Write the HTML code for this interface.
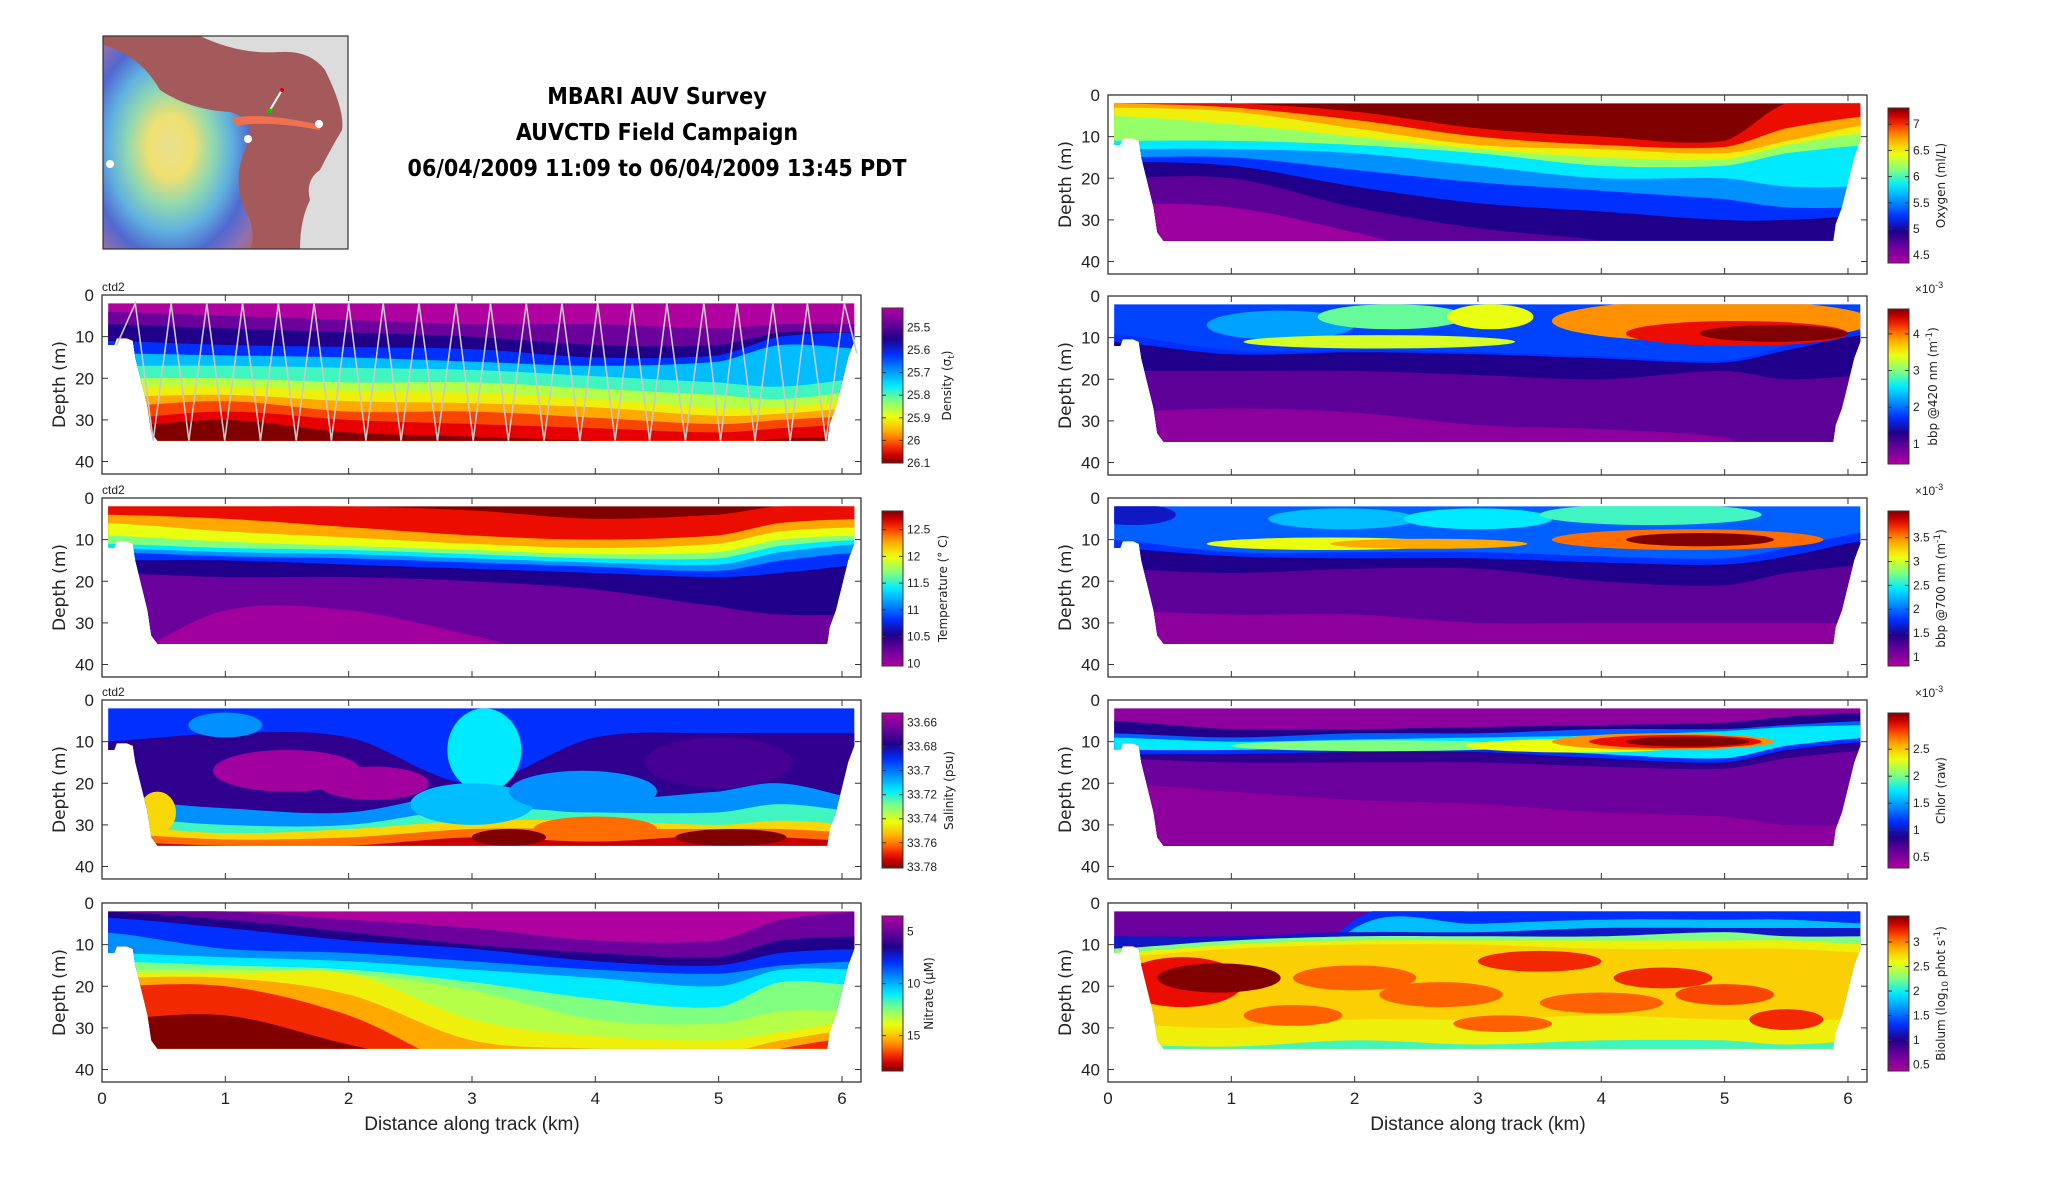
<!DOCTYPE html>
<html><head><meta charset="utf-8"><title>MBARI AUV Survey</title>
<style>
html,body{margin:0;padding:0;background:#fff;}
svg{display:block;}
.tk{font-family:"Liberation Sans Narrow","Liberation Sans",sans-serif;font-size:17px;fill:#222;}
.cb{font-family:"Liberation Sans Narrow","Liberation Sans",sans-serif;font-size:12px;fill:#222;}
.lab{font-family:"DejaVu Sans","Liberation Sans",sans-serif;font-size:17px;fill:#222;}
.xl{font-family:"Liberation Sans Narrow","Liberation Sans",sans-serif;font-size:19px;fill:#222;}
.cbt{font-family:"DejaVu Sans","Liberation Sans",sans-serif;font-size:12px;fill:#222;}
.ttl{font-family:"DejaVu Sans Condensed","DejaVu Sans","Liberation Sans",sans-serif;font-size:23px;font-weight:bold;fill:#000;}
</style></head>
<body>
<svg id="fig" width="2052" height="1188" viewBox="0 0 2052 1188" xmlns="http://www.w3.org/2000/svg">
<defs>
<clipPath id="mapclip"><rect x="103" y="36" width="245" height="213"/></clipPath>
<radialGradient id="rainbow" cx="0.45" cy="0.5" r="0.75">
<stop offset="0" stop-color="#e8e090"/><stop offset="0.2" stop-color="#f0e070"/><stop offset="0.38" stop-color="#90d8b0"/><stop offset="0.55" stop-color="#60b0e0"/><stop offset="0.72" stop-color="#5068d0"/><stop offset="0.88" stop-color="#9070b0"/><stop offset="1" stop-color="#b06868"/>
</radialGradient>
</defs>
<g clip-path="url(#mapclip)">
<rect x="103" y="36" width="245" height="213" fill="#dcdcdc"/>
<path d="M103,36 L200,36 Q240,55 280,52 Q310,50 325,70 Q345,110 342,130 Q330,150 320,170 Q305,180 310,200 Q300,220 300,249 L103,249 Z" fill="#a45a5a"/>
<path d="M103,45 Q140,55 160,90 Q190,110 230,112 Q260,120 245,150 Q230,185 250,220 Q255,240 250,249 L103,249 Z" fill="url(#rainbow)"/>
<path d="M232,118 Q265,112 320,125 L320,130 Q265,120 236,126 Z" fill="#f07050"/>
<line x1="270" y1="110" x2="282" y2="90" stroke="#fff" stroke-width="2"/>
<circle cx="282" cy="90" r="2" fill="#d00"/><circle cx="270" cy="111" r="2.5" fill="#0c0"/>
<circle cx="248" cy="139" r="4" fill="#fff"/><circle cx="319" cy="124" r="4" fill="#fff"/><circle cx="110" cy="164" r="4" fill="#fff"/>
</g>
<rect x="103" y="36" width="245" height="213" fill="none" stroke="#333" stroke-width="1.2"/>
<text class="ttl" x="657" y="104" text-anchor="middle">MBARI AUV Survey</text>
<text class="ttl" x="657" y="140" text-anchor="middle">AUVCTD Field Campaign</text>
<text class="ttl" x="657" y="176" text-anchor="middle">06/04/2009 11:09 to 06/04/2009 13:45 PDT</text>
</svg>
<script>
// ---------- data ----------
const nodeKm = [0, 1, 2, 3, 4, 5, 5.5, 6.2];
const maskPts = [[0.05,2],[6.1,2],[6.1,11],[6.05,15],[6.0,21],[5.95,27],[5.9,31],[5.88,35],[0.45,35],[0.4,33],[0.37,27],[0.32,21],[0.27,15],[0.25,11],[0.2,10.4],[0.12,10.4],[0.1,12],[0.05,12]];
const xTickLabels = ["0","1","2","3","4","5","6"];
const yTickLabels = ["0","10","20","30","40"];

const densityLevels = [0, 0.1, 0.2, 0.3, 0.45, 0.55, 0.65, 0.72, 0.8, 0.88, 0.93, 1.0];
const densityDepths = [[2,2,2,2,2,2,2,2],[4,5,6,7,7,8,7,7],[7,8,9,10,12,12,9,9],[11,12,12.5,13,15,14.5,10,9],[14,14.5,15,16,17,16,12,13],[17,17,17.5,18,19.5,21,22,20],[20,20,21,21,22.5,24,25,23],[22,22,23,23.5,25,27,27,25],[24.5,24,25.5,26,27,29,28.5,27],[27,25.5,28,28,29.5,31,30,29],[30,28,30,31,32,33,32,31],[32,30,33,34,35,36,34.5,34]];
const densityBlobs = [];
const yoyoTopsKm = [0.27,0.56,0.85,1.14,1.43,1.72,2.0,2.28,2.57,2.87,3.15,3.44,3.73,4.02,4.3,4.58,4.88,5.15,5.44,5.72,6.02];

const tempLevels = [1.0, 0.92, 0.8, 0.7, 0.6, 0.5, 0.4, 0.3, 0.2, 0.1, 0.02];
const tempDepths = [[2,2,2,2,2,2,2,2],[2,2,2,3,5,4,2,2],[4,5,7,9,10,9,6,5],[6,8,9.5,11,12,11,8,7],[9,10.5,11.5,12.5,13.5,13,10,9],[11,12,12.5,13.5,14.5,14.5,11.5,10],[12,13,13.5,14.5,15.5,16,13,11],[13,14,14.5,15.5,16.5,17.5,15,13],[15,15,16,17,18,19,18,16],[18,19,19,20,22,26,28,28],[40,27,27,33,40,40,40,40]];
const tempBlobs = [];

const salLevels = [0.3, 0.18, 0.4, 0.55, 0.75, 0.85, 0.95];
const salDepths = [[2,2,2,2,2,2,2,2],[10,8,9,20,9,8,8,8],[24,26,27,22,24,22,20,24],[28,30,30,26,27,27,25,27],[30,32,31,29,29,30,29,30],[32,33.5,33,31,31,31,31,32],[34,35,35,33,34,32.5,33,34]];
const salBlobs = [[1.5,17,0.6,5,0.02],[2.2,20,0.45,4,0.02],[3.1,12,0.3,10,0.5],[3.0,25,0.5,5,0.45],[3.9,22,0.6,5,0.4],[0.45,27,0.15,5,0.75],[4.0,31,0.5,3,0.85],[3.3,33,0.3,2,1.0],[5.1,33,0.45,2,1.0],[5.0,15,0.6,6,0.15],[1.0,6,0.3,3,0.4]];

const nitLevels = [0.0, 0.1, 0.2, 0.3, 0.4, 0.5, 0.6, 0.65, 0.72, 0.8, 0.9, 1.0];
const nitDepths = [[2,2,2,2,2,2,2,2],[2,2,4,6,9,9,4,2],[2,4,7,10,12,13,9,8],[3.5,6,9,11,14,15,12,11],[7,11,12,14,16,17,15,14],[12,13,14,16,18,20,16,16],[14,15,16,19,23,25,19,20],[16,16,17,21,28,29,26,26],[17,17,17,28,32,33,31,28],[18,18,22,33,35,36,33,30],[20,20,27,40,40,40,35,32],[28,27,34,40,40,40,40,40]];
const nitBlobs = [];

const oxyLevels = [1.0, 0.92, 0.8, 0.72, 0.62, 0.5, 0.4, 0.3, 0.2, 0.12, 0.03];
const oxyDepths = [[2,2,2,2,2,2,2,2],[2,2,4,8,10,11,2,2],[2,3,6,10,12,12.5,8,5],[3,4,8,12,13,14,11,7],[5,7,10,13,15,15.5,12,9],[11,11,12,14,17,17,14,12],[13,13,14,17,20,20,22,22],[15,15,18,21,23,25,27,27],[16,17,22,26,28,30,30,29],[20,20,27,32,35,40,40,40],[26,27,33,40,40,40,40,40]];
const oxyBlobs = [];

const b420Levels = [0.32, 0.3, 0.2, 0.12, 0.05];
const b420Depths = [[2,2,2,2,2,2,2,2],[9,13,13,13.5,14.5,15.5,12,8],[11,14,13.5,14,15,16,13,9],[18,18,18,19,20,18,20,19],[28,27,28,31,32,34,40,40]];
const b420Blobs = [[1.4,7,0.6,3.5,0.42],[2.3,5,0.6,3,0.58],[3.1,5,0.35,3,0.7],[2.2,11,1.1,1.6,0.68],[4.9,6,1.3,5,0.82],[5.1,9,0.9,3,0.92],[5.4,9,0.6,2,1.0]];

const b700Levels = [0.35, 0.3, 0.2, 0.12, 0.05];
const b700Depths = [[2,2,2,2,2,2,2,2],[10,13,13,13,14,14.5,12,8],[12,14,14.5,14.5,15.5,16,14,10],[17,18,17,17,20,21,18,16],[27,28,28,30,30,30,30,30]];
const b700Blobs = [[0.2,4,0.35,2.5,0.25],[1.9,5,0.6,2.5,0.45],[3.0,5,0.6,2.5,0.5],[4.4,4,0.9,2.5,0.55],[1.8,11,1.0,1.5,0.7],[2.6,11,0.8,1.2,0.8],[4.7,10,1.1,2.5,0.85],[4.8,10,0.6,1.6,1.0]];

const chlLevels = [0.05, 0.2, 0.35, 0.5, 0.3, 0.18, 0.1, 0.05];
const chlDepths = [[2,2,2,2,2,2,2,2],[5,7,7,6.5,6,5.5,4,3],[8,9,8,8,7,7,6,5],[9,10,9.5,9,8.5,7.5,6.5,6],[12,12,11.5,11.5,13,14,11,9],[13,13,12.5,12.5,14,15,12,10],[14,15,15,15,16,16.5,14,12],[20,22,24,25,27,28,30,30]];
const chlBlobs = [[2.2,11,1.2,1.3,0.6],[3.8,11,0.9,1.6,0.7],[4.5,10,0.9,2,0.82],[4.6,10,0.7,1.6,0.92],[4.7,10,0.5,1.2,1.0]];

const bioLevels = [0.1, 0.3, 0.45, 0.25, 0.6, 0.72, 0.76, 0.72, 0.55];
const bioDepths = [[2,2,2,2,2,2,2,2],[40,40,4,2,2,2,2,2],[40,40,6,5,4,4,4,5],[8,8,7,7,6,6,6,6],[11,9,8,8,8,7,8,8],[12,10,9,9,9,9,9,10],[13,11,10,10,11,11,11,12],[29,30,28,28,27,28,28,28],[34,34.5,33,34,33,33,34,33]];
const bioBlobs = [[0.6,19,0.5,6,0.92],[0.9,18,0.5,3.5,1.0],[2.0,18,0.5,3,0.86],[3.5,14,0.5,2.5,0.9],[4.5,18,0.4,2.5,0.9],[2.7,22,0.5,3,0.86],[4.0,24,0.5,2.5,0.86],[5.5,28,0.3,2.5,0.9],[3.2,29,0.4,2,0.86],[5.0,22,0.4,2.5,0.88],[1.5,27,0.4,2.5,0.86]];

const densityTicks = [25.5,25.6,25.7,25.8,25.9,26,26.1];
const tempTicks = [10,10.5,11,11.5,12,12.5];
const salTicks = [33.66,33.68,33.7,33.72,33.74,33.76,33.78];
const nitTicks = [5,10,15];
const oxyTicks = [4.5,5,5.5,6,6.5,7];
const b420Ticks = [1,2,3,4];
const b700Ticks = [1,1.5,2,2.5,3,3.5];
const chlTicks = [0.5,1,1.5,2,2.5];
const bioTicks = [0.5,1,1.5,2,2.5,3];

// ---------- rendering ----------
const NS = "http://www.w3.org/2000/svg";
const svg = document.getElementById("fig");
const defs = svg.querySelector("defs");
const cmStops = [[0,"#b0009f"],[0.1,"#6c009c"],[0.2,"#20008a"],[0.3,"#0030ff"],[0.4,"#0090ff"],[0.5,"#00eaff"],[0.6,"#80ff80"],[0.7,"#eaff10"],[0.78,"#ffc000"],[0.86,"#ff6000"],[0.93,"#e80000"],[1,"#800000"]];
function hex(c){return [parseInt(c.substr(1,2),16),parseInt(c.substr(3,2),16),parseInt(c.substr(5,2),16)];}
function jet(v){
  v=Math.max(0,Math.min(1,v));
  for(let i=1;i<cmStops.length;i++){
    if(v<=cmStops[i][0]){const a=cmStops[i-1],b=cmStops[i];const t=(v-a[0])/(b[0]-a[0]);const ca=hex(a[1]),cb=hex(b[1]);
      return "rgb("+ca.map((x,j)=>Math.round(x+(cb[j]-x)*t)).join(",")+")";}
  }
  return cmStops[cmStops.length-1][1];
}
function el(tag,attrs,parent){const e=document.createElementNS(NS,tag);for(const k in attrs)e.setAttribute(k,attrs[k]);(parent||svg).appendChild(e);return e;}
function interp(d,km){
  let i=0;while(i<nodeKm.length-2&&km>nodeKm[i+1])i++;
  const t=Math.max(0,Math.min(1,(km-nodeKm[i])/(nodeKm[i+1]-nodeKm[i])));
  const p0=d[Math.max(0,i-1)],p1=d[i],p2=d[i+1],p3=d[Math.min(d.length-1,i+2)];
  return 0.5*((2*p1)+(-p0+p2)*t+(2*p0-5*p1+4*p2-p3)*t*t+(-p0+3*p1-3*p2+p3)*t*t*t);
}
let pid=0;
function panel(cfg,levels,depths,blobs){
  pid++;
  const X=km=>cfg.x0+km*123.33, Y=d=>cfg.y+d*(179/43);
  const g=el("g",{});
  
  
  const cp=el("clipPath",{id:"clip"+pid},defs);
  el("path",{d:"M"+maskPts.map(p=>X(p[0]).toFixed(1)+","+Y(p[1]).toFixed(1)).join("L")+"Z"},cp);
  const fg=el("g",{"clip-path":"url(#clip"+pid+")"},g);
  
  
  levels.forEach((lv,k)=>{
    const pts=[];for(let i=0;i<=124;i++){const km=i*6.2/124;pts.push(X(km).toFixed(1)+","+Y(Math.min(43,interp(depths[k],km))).toFixed(1));}
    const p=el("path",{d:"M"+pts.join("L")+"L"+X(6.2)+","+Y(43)+"L"+X(0)+","+Y(43)+"Z",fill:jet(lv)},fg);
    
    
  });
  blobs.forEach(b=>{
    const e=el("ellipse",{cx:X(b[0]),cy:Y(b[1]),rx:b[2]*123.33,ry:b[3]*179/43,fill:jet(b[4])},fg);
    
    
  });
  if(cfg.yoyo){
    const pts=[[0.12,12]];cfg.yoyo.forEach((t,i)=>{if(i>0)pts.push([(t+cfg.yoyo[i-1])/2,35]);pts.push([t,2]);});pts.push([6.12,14]);
    const pl=el("polyline",{points:pts.map(p=>X(p[0]).toFixed(1)+","+Y(p[1]).toFixed(1)).join(" "),fill:"none",stroke:"#c8c8c8","stroke-width":1.6},g);
    
    
  }
  const W=759,H=179;
  const fr=el("rect",{x:cfg.x0,y:cfg.y,width:W,height:H,fill:"none",stroke:"#333","stroke-width":1.3},g);
  
  
  xTickLabels.forEach((lb,i)=>{
    const x=X(i);
    el("line",{x1:x,x2:x,y1:cfg.y+H,y2:cfg.y+H-6,stroke:"#333"},g);
    el("line",{x1:x,x2:x,y1:cfg.y,y2:cfg.y+6,stroke:"#333"},g);
    if(cfg.xlabels){const t=el("text",{class:"tk",x:x,y:cfg.y+H+22,"text-anchor":"middle"},g);t.textContent=lb;
      
      }
  });
  yTickLabels.forEach((lb,i)=>{
    const y=Y(i*10);
    el("line",{x1:cfg.x0,x2:cfg.x0+6,y1:y,y2:y,stroke:"#333"},g);
    el("line",{x1:cfg.x0+W,x2:cfg.x0+W-6,y1:y,y2:y,stroke:"#333"},g);
    const t=el("text",{class:"tk",x:cfg.x0-8,y:y+6,"text-anchor":"end"},g);t.textContent=lb;
    
    
  });
  const yl=el("text",{class:"lab",x:0,y:0,"text-anchor":"middle",transform:"translate("+(cfg.x0-37)+","+(cfg.y+H/2)+") rotate(-90)"},g);
  yl.textContent="Depth (m)";
  
  
  if(cfg.xlabels){const t=el("text",{class:"xl",x:cfg.x0+370,y:cfg.y+H+48,"text-anchor":"middle"},g);t.textContent="Distance along track (km)";
    
    }
  if(cfg.ctd){const t=el("text",{class:"cb",x:cfg.x0,y:cfg.y-4},g);t.textContent="ctd2";
    
    }
  const cx=cfg.x0+780,cy=cfg.y+13,cw=21,ch=155;
  const gid="grad"+pid;const lg=el("linearGradient",{id:gid,x1:0,y1:0,x2:0,y2:1},defs);
  for(let i=0;i<=20;i++){const f=i/20;el("stop",{offset:f,"stop-color":jet(cfg.rev?f:1-f)},lg);}
  const cr=el("rect",{x:cx,y:cy,width:cw,height:ch,fill:"url(#"+gid+")",stroke:"#333","stroke-width":1},g);
  
  
  cfg.ticks.forEach(v=>{
    const f=cfg.rev?(v-cfg.vmin)/(cfg.vmax-cfg.vmin):(cfg.vmax-v)/(cfg.vmax-cfg.vmin);const y=cy+f*ch;
    el("line",{x1:cx,x2:cx+4,y1:y,y2:y,stroke:"#333"},g);el("line",{x1:cx+cw,x2:cx+cw-4,y1:y,y2:y,stroke:"#333"},g);
    const t=el("text",{class:"cb",x:cx+cw+4,y:y+4},g);t.textContent=String(v);
    
    
  });
  const ct=el("text",{class:"cbt",x:0,y:0,"text-anchor":"middle",transform:"translate("+(cx+cw+cfg.tgap)+","+(cy+ch/2)+") rotate(-90)"},g);
  ct.innerHTML=cfg.title;
  
  
  if(cfg.exp){const t=el("text",{class:"cb",x:cx+cw+20,y:cy-16,"text-anchor":"middle",fill:"#666"},g);t.innerHTML='×10<tspan dy="-5" font-size="9">-3</tspan>';
    
    }
}
const L=102,R=1108;
panel({name:"density",x0:L,y:295,ctd:1,yoyo:yoyoTopsKm,ticks:densityTicks,vmin:25.414,vmax:26.1,rev:1,tgap:48,title:'Density (σ<tspan dy="3" font-size="9">t</tspan><tspan dy="-3">)</tspan>'},densityLevels,densityDepths,densityBlobs);
panel({name:"temperature",x0:L,y:498,ctd:1,ticks:tempTicks,vmin:9.95,vmax:12.85,tgap:44,title:"Temperature (° C)"},tempLevels,tempDepths,tempBlobs);
panel({name:"salinity",x0:L,y:700,ctd:1,ticks:salTicks,vmin:33.652,vmax:33.781,rev:1,tgap:50,title:"Salinity (psu)"},salLevels,salDepths,salBlobs);
panel({name:"nitrate",x0:L,y:903,xlabels:1,ticks:nitTicks,vmin:3.5,vmax:18.4,rev:1,tgap:30,title:"Nitrate (μM)"},nitLevels,nitDepths,nitBlobs);
panel({name:"oxygen",x0:R,y:95,ticks:oxyTicks,vmin:4.35,vmax:7.31,tgap:36,title:"Oxygen (ml/L)"},oxyLevels,oxyDepths,oxyBlobs);
panel({name:"bbp420",x0:R,y:296,exp:1,ticks:b420Ticks,vmin:0.45,vmax:4.68,tgap:28,title:'bbp @420 nm (m<tspan dy="-5" font-size="9">-1</tspan><tspan dy="5">)</tspan>'},b420Levels,b420Depths,b420Blobs);
panel({name:"bbp700",x0:R,y:498,exp:1,ticks:b700Ticks,vmin:0.81,vmax:4.06,tgap:36,title:'bbp @700 nm (m<tspan dy="-5" font-size="9">-1</tspan><tspan dy="5">)</tspan>'},b700Levels,b700Depths,b700Blobs);
panel({name:"chlorophyll",x0:R,y:700,exp:1,ticks:chlTicks,vmin:0.3,vmax:3.17,tgap:36,title:"Chlor (raw)"},chlLevels,chlDepths,chlBlobs);
panel({name:"bioluminescence",x0:R,y:903,xlabels:1,ticks:bioTicks,vmin:0.37,vmax:3.53,tgap:36,title:'Biolum (log<tspan dy="3" font-size="9">10</tspan><tspan dy="-3"> phot s</tspan><tspan dy="-5" font-size="9">-1</tspan><tspan dy="5">)</tspan>'},bioLevels,bioDepths,bioBlobs);
</script>
</body></html>
